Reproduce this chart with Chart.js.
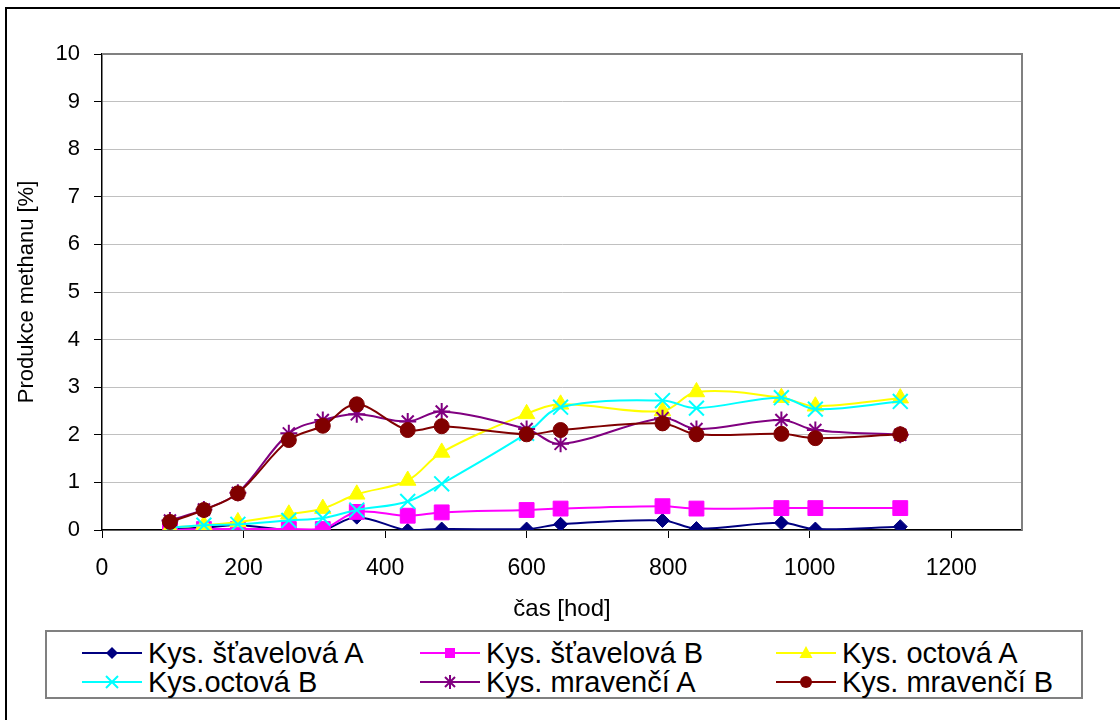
<!DOCTYPE html>
<html>
<head>
<meta charset="utf-8">
<script src="https://cdn.jsdelivr.net/npm/chart.js@4/dist/chart.umd.min.js"></script>
<style>
  html, body { margin: 0; padding: 0; background: #fff; }
  #wrap { position: relative; width: 1120px; height: 720px; overflow: hidden; background: #fff; }
  #frame { position: absolute; left: 5px; top: 7px; width: 1300px; height: 900px; border: 2px solid #000; }
  #c { position: absolute; left: 0; top: 0; }
  #legend {
    position: absolute; left: 45px; top: 630px; width: 1038px; height: 69px;
    border: 2px solid #808080; box-sizing: border-box; background: #fff;
    font-family: "Liberation Sans", Arial, sans-serif; font-size: 29px; color: #000;
  }
  .item { position: absolute; display: flex; align-items: center; white-space: nowrap; height: 30px; }
  .item svg { display: block; margin-right: 6px; }
</style>
</head>
<body>
<div id="wrap">
  <div id="frame"></div>
  <canvas id="c" width="1120" height="720"></canvas>
  <div id="legend"></div>
</div>
<script>
// Sampling times [h]
const hours = [96, 144, 192, 264, 312, 360, 432, 480, 600, 648, 792, 840, 960, 1008, 1128];

// Methane production [%] per acid
const stavelovaA = [0.02, 0.05, 0.10, 0.00, 0.00, 0.27, -0.01, 0.02, 0.02, 0.12, 0.20, 0.03, 0.15, 0.02, 0.07];
const stavelovaB = [0.00, 0.02, 0.02, 0.02, 0.02, 0.38, 0.30, 0.37, 0.42, 0.45, 0.50, 0.45, 0.46, 0.46, 0.46];
const octovaA    = [0.05, 0.10, 0.17, 0.33, 0.45, 0.75, 1.04, 1.63, 2.44, 2.64, 2.50, 2.90, 2.78, 2.60, 2.77];
const octovaB    = [0.05, 0.10, 0.12, 0.20, 0.25, 0.42, 0.60, 0.97, 2.03, 2.58, 2.72, 2.56, 2.78, 2.54, 2.70];
const mravenciA  = [0.20, 0.43, 0.78, 2.03, 2.31, 2.43, 2.28, 2.49, 2.12, 1.81, 2.35, 2.12, 2.31, 2.10, 2.00];
const mravenciB  = [0.17, 0.42, 0.77, 1.89, 2.19, 2.64, 2.10, 2.18, 2.01, 2.10, 2.24, 2.01, 2.02, 1.93, 2.01];

const seriesNames = ['Kys. šťavelová A', 'Kys. šťavelová B', 'Kys. octová A', 'Kys.octová B', 'Kys. mravenčí A', 'Kys. mravenčí B'];
const seriesValues = [stavelovaA, stavelovaB, octovaA, octovaB, mravenciA, mravenciB];

const xTitle = 'čas [hod]';
const yTitle = 'Produkce methanu [%]';

const FONT = '"Liberation Sans", Arial, sans-serif';

const styles = [
  { color: '#000080', pointStyle: 'rectRot',  radius: 7 },
  { color: '#FF00FF', pointStyle: 'rect',     radius: 10.5 },
  { color: '#FFFF00', pointStyle: 'triangle', radius: 9.5 },
  { color: '#00FFFF', pointStyle: 'crossRot', radius: 10.5 },
  { color: '#800080', pointStyle: 'star',     radius: 8.5 },
  { color: '#800000', pointStyle: 'circle',   radius: 7.5 }
];

const datasets = seriesNames.map((name, i) => ({
  label: name,
  data: hours.map((h, k) => ({ x: h, y: seriesValues[i][k] })),
  borderColor: styles[i].color,
  backgroundColor: styles[i].color,
  borderWidth: 2,
  pointStyle: styles[i].pointStyle,
  pointRadius: styles[i].radius,
  pointHoverRadius: styles[i].radius,
  pointBorderWidth: (styles[i].pointStyle === 'crossRot' || styles[i].pointStyle === 'star') ? 2 : 1,
  pointBackgroundColor: styles[i].color,
  pointBorderColor: styles[i].color,
  tension: 0.35,
  fill: false,
  order: seriesNames.length - i
}));

// Grey frame on the top and right side of the plot area
const plotFrame = {
  id: 'plotFrame',
  beforeDatasetsDraw(chart) {
    const { ctx, chartArea: a } = chart;
    ctx.save();
    ctx.strokeStyle = '#808080';
    ctx.lineWidth = 2;
    ctx.beginPath();
    ctx.moveTo(a.left, a.top);
    ctx.lineTo(a.right, a.top);
    ctx.lineTo(a.right, a.bottom);
    ctx.stroke();
    ctx.restore();
  }
};

const chart = new Chart(document.getElementById('c'), {
  type: 'line',
  data: { datasets },
  options: {
    responsive: false,
    animation: false,
    events: [],
    layout: { padding: { left: 10, top: 54, right: 98, bottom: 92 } },
    plugins: { legend: { display: false }, tooltip: { enabled: false } },
    scales: {
      x: {
        type: 'linear',
        min: 0, max: 1300,
        ticks: {
          stepSize: 200, includeBounds: false, padding: 17, color: '#000',
          font: { family: FONT, size: 23 },
          callback: (v) => String(v)
        },
        grid: { drawOnChartArea: false, color: '#000', tickLength: 8, lineWidth: 1 },
        border: { color: '#000', width: 1.5 },
        title: { display: true, text: xTitle, color: '#000', font: { family: FONT, size: 24 }, padding: { top: 4, bottom: 4 } },
        afterFit(scale) { scale.height = 98; }
      },
      y: {
        type: 'linear',
        min: 0, max: 10,
        ticks: { stepSize: 1, padding: 14, color: '#000', font: { family: FONT, size: 22 }, callback: (v) => String(v) },
        grid: { color: '#c0c0c0', tickColor: '#000', tickLength: 8, lineWidth: 1 },
        border: { color: '#000', width: 1.5 },
        title: { display: true, text: yTitle, color: '#000', font: { family: FONT, size: 22 }, padding: { top: 4, bottom: 4 } },
        afterFit(scale) { scale.width = 92; }
      }
    }
  },
  plugins: [plotFrame]
});

// Legend built from the chart's datasets: line segment with the series marker
function markerSvg(ds) {
  const c = ds.borderColor, cx = 30, cy = 15;
  let m = '';
  switch (ds.pointStyle) {
    case 'rectRot': m = `<polygon points="${cx},${cy-6} ${cx+6},${cy} ${cx},${cy+6} ${cx-6},${cy}" fill="${c}"/>`; break;
    case 'rect': m = `<rect x="${cx-5}" y="${cy-5}" width="10" height="10" fill="${c}"/>`; break;
    case 'triangle': m = `<polygon points="${cx},${cy-7} ${cx+6.5},${cy+5} ${cx-6.5},${cy+5}" fill="${c}"/>`; break;
    case 'crossRot': m = `<path d="M${cx-6},${cy-6}L${cx+6},${cy+6}M${cx+6},${cy-6}L${cx-6},${cy+6}" stroke="${c}" stroke-width="2"/>`; break;
    case 'star': m = `<path d="M${cx-5},${cy-5}L${cx+5},${cy+5}M${cx+5},${cy-5}L${cx-5},${cy+5}M${cx},${cy-7}L${cx},${cy+7}" stroke="${c}" stroke-width="2"/>`; break;
    case 'circle': m = `<circle cx="${cx}" cy="${cy}" r="6" fill="${c}"/>`; break;
  }
  return `<svg width="60" height="30" viewBox="0 0 60 30"><line x1="0" y1="${cy}" x2="60" y2="${cy}" stroke="${c}" stroke-width="2"/>${m}</svg>`;
}

const legendCols = [35, 373, 729];
const legendRows = [6, 35];
const legendEl = document.getElementById('legend');
chart.data.datasets.forEach((ds, i) => {
  const el = document.createElement('div');
  el.className = 'item';
  el.style.left = legendCols[i % 3] + 'px';
  el.style.top = legendRows[Math.floor(i / 3)] + 'px';
  el.innerHTML = markerSvg(ds) + '<span>' + ds.label + '</span>';
  legendEl.appendChild(el);
});
</script>
</body>
</html>
